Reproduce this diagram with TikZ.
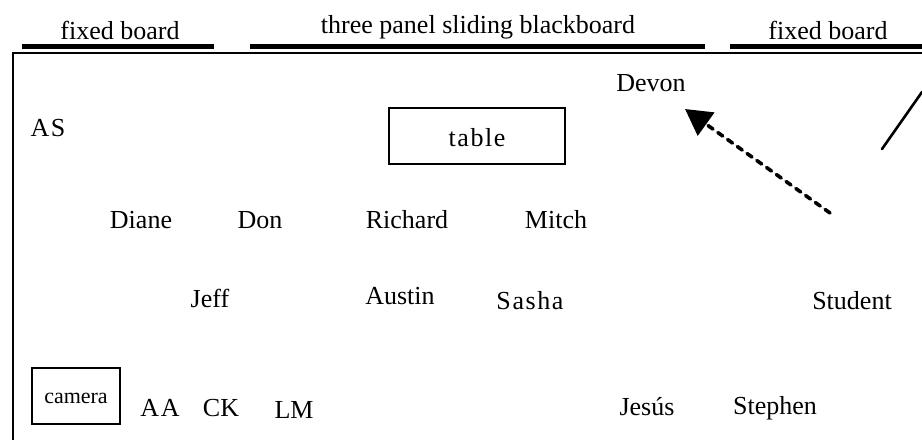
\documentclass[tikz,border=0pt]{standalone}
\usepackage{fontspec}
\setmainfont{Liberation Serif}
\usetikzlibrary{arrows.meta}
\newcommand{\ls}{\kern1.6pt}
\begin{document}
\begin{tikzpicture}[x=1pt,y=-1pt,
  lbl/.style={font=\fontsize{26}{30}\selectfont, inner sep=0pt, anchor=center},
  boardline/.style={line width=5pt},
  boxed/.style={draw, line width=2pt, inner sep=0pt},
  walk/.style={line width=3.6pt, dash pattern=on 6pt off 6pt, line cap=round,
    -{Triangle[length=26pt,width=28pt]}}]
\useasboundingbox (0,0) rectangle (922,440);
% boards along the front wall
\node[lbl] (fbL) at (120,30) {fixed board};
\node[lbl] (slide) at (478,27) {three panel sliding blackboard};
\node[lbl] (fbR) at (828,30) {fixed board};
\draw[boardline] (22,46) -- (214,46);
\draw[boardline] (250,46) -- (705,46);
\draw[boardline] (730,46) -- (922,46);
% room walls
\draw[line width=2.2pt] (922,53) -- (13,53) -- (13,440);
% door
\draw[line width=2.6pt, line cap=round] (882,149) -- (922,92);
% table and camera
\node[boxed, minimum width=176pt, minimum height=56pt] (table) at (477,136) {};
\node[lbl] (tabletxt) at (477,138) {t\ls a\ls b\ls l\ls e};
\node[boxed, minimum width=88pt, minimum height=56pt] (camera) at (76,396) {};
\node[font=\fontsize{22}{26}\selectfont, inner sep=0pt] (cameratxt) at (76,398) {camera};
% people
\node[lbl] (devon) at (651,83) {Devon};
\node[lbl] (as) at (48,128) {A\ls S};
\node[lbl] (diane) at (141,220) {Diane};
\node[lbl] (don) at (260,220) {Don};
\node[lbl] (richard) at (407,220) {Richard};
\node[lbl] (mitch) at (556,220) {Mitch};
\node[lbl] (jeff) at (210,298) {Jeff};
\node[lbl] (austin) at (400,296) {Austin};
\node[lbl] (sasha) at (530,301) {S\ls a\ls s\ls h\ls a};
\node[lbl] (student) at (852,301) {Student};
\node[lbl] (aa) at (160,408) {A\ls A};
\node[lbl] (ck) at (221,408) {CK};
\node[lbl] (lm) at (294,410) {LM};
\node[lbl] (jesus) at (647,407) {Jesús};
\node[lbl] (stephen) at (775,408) {Stephen};
% student's path toward Devon
\coordinate (pathstart) at (830,213);
\coordinate (pathend) at (685,109);
\draw[walk] (pathstart) -- (pathend);
\end{tikzpicture}
\end{document}
